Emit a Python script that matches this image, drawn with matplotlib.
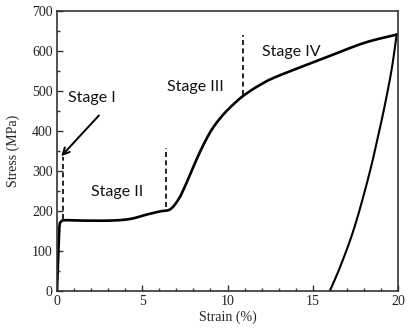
import matplotlib
matplotlib.use("Agg")
import matplotlib.pyplot as plt
from matplotlib.ticker import MultipleLocator
import numpy as np

# loading curve (strain %, stress MPa)
load_strain = [0.0, 0.08, 0.14, 0.23, 0.47, 1.5, 3.1, 4.28, 5.25, 6.04, 6.63, 7.11, 7.50,
               8.0, 8.49, 9.07, 9.75, 10.53, 11.12, 11.9, 12.88, 15.66, 18.0, 19.92]
load_stress = [0, 90, 160, 173, 177, 176, 176, 180, 191, 199, 204, 228, 261,
               311, 357, 403, 441, 474, 494, 515, 536, 582, 620, 641]
# unloading curve
unload_strain = [16.0, 16.65, 17.45, 18.3, 18.9, 19.3, 19.65, 19.92]
unload_stress = [0, 65, 160, 290, 400, 480, 560, 641]

# stage boundaries: (x, y_low, y_high)
bounds_x = [0.38, 6.37, 10.89]
bounds_lo = [180, 211, 490]
bounds_hi = [336, 357, 640]

labels = ["Stage I", "Stage II", "Stage III", "Stage IV"]
label_x = [0.66, 1.97, 6.45, 12.02]
label_y = [482, 247, 511, 598]


def smooth(xs, ys, n=8):
    # Catmull-Rom through the read points
    P = np.column_stack([xs, ys]).astype(float)
    P = np.vstack([P[0], P, P[-1]])
    out = []
    for i in range(1, len(P) - 2):
        p0, p1, p2, p3 = P[i - 1], P[i], P[i + 1], P[i + 2]
        for t in np.linspace(0, 1, n, endpoint=False):
            t2, t3 = t * t, t * t * t
            out.append(0.5 * ((2 * p1) + (-p0 + p2) * t + (2 * p0 - 5 * p1 + 4 * p2 - p3) * t2
                              + (-p0 + 3 * p1 - 3 * p2 + p3) * t3))
    out.append(P[-2])
    out = np.array(out)
    return out[:, 0], out[:, 1]


fig = plt.figure(figsize=(4.08, 3.34), dpi=100)
ax = fig.add_axes([57/408, 1-291/334, (398-57)/408, (291-11)/334])

lx, ly = smooth(load_strain, load_stress)
ux, uy = smooth(unload_strain, unload_stress)
ax.plot(lx, ly, color="black", lw=1.9, solid_joinstyle="round")
ax.plot(ux, uy, color="black", lw=1.5)

for x, lo, hi in zip(bounds_x, bounds_lo, bounds_hi):
    ax.plot([x, x], [lo, hi], color="black", lw=1.2, ls=(0, (3, 2)))

for t, x, y in zip(labels, label_x, label_y):
    ax.text(x, y, t, fontsize=11.5, family="Lato", va="center", ha="left", color="#111111")

ax.annotate("", xy=(0.14, 332), xytext=(2.57, 444),
            arrowprops=dict(arrowstyle="->", color="black", lw=1.4, mutation_scale=12))

ax.set_xlim(0, 20)
ax.set_ylim(0, 700)
ax.xaxis.set_major_locator(MultipleLocator(5))
ax.xaxis.set_minor_locator(MultipleLocator(1))
ax.yaxis.set_major_locator(MultipleLocator(100))
ax.yaxis.set_minor_locator(MultipleLocator(50))
ax.tick_params(which="both", direction="in", top=False, right=False,
               color="#333333", labelsize=10, labelcolor="#222222")
ax.tick_params(which="major", length=4, width=1, pad=3)
ax.tick_params(which="minor", length=2.5, width=1)
for lab in ax.get_xticklabels() + ax.get_yticklabels():
    lab.set_family("Liberation Serif")
for s in ax.spines.values():
    s.set_linewidth(1.2)
    s.set_color("#333333")

ax.set_xlabel("Strain (%)", family="Liberation Serif", fontsize=10, labelpad=2, color="#222222")
ax.set_ylabel("Stress (MPa)", family="Liberation Serif", fontsize=10, labelpad=9, color="#222222")

fig.savefig("out.png", dpi=100)
